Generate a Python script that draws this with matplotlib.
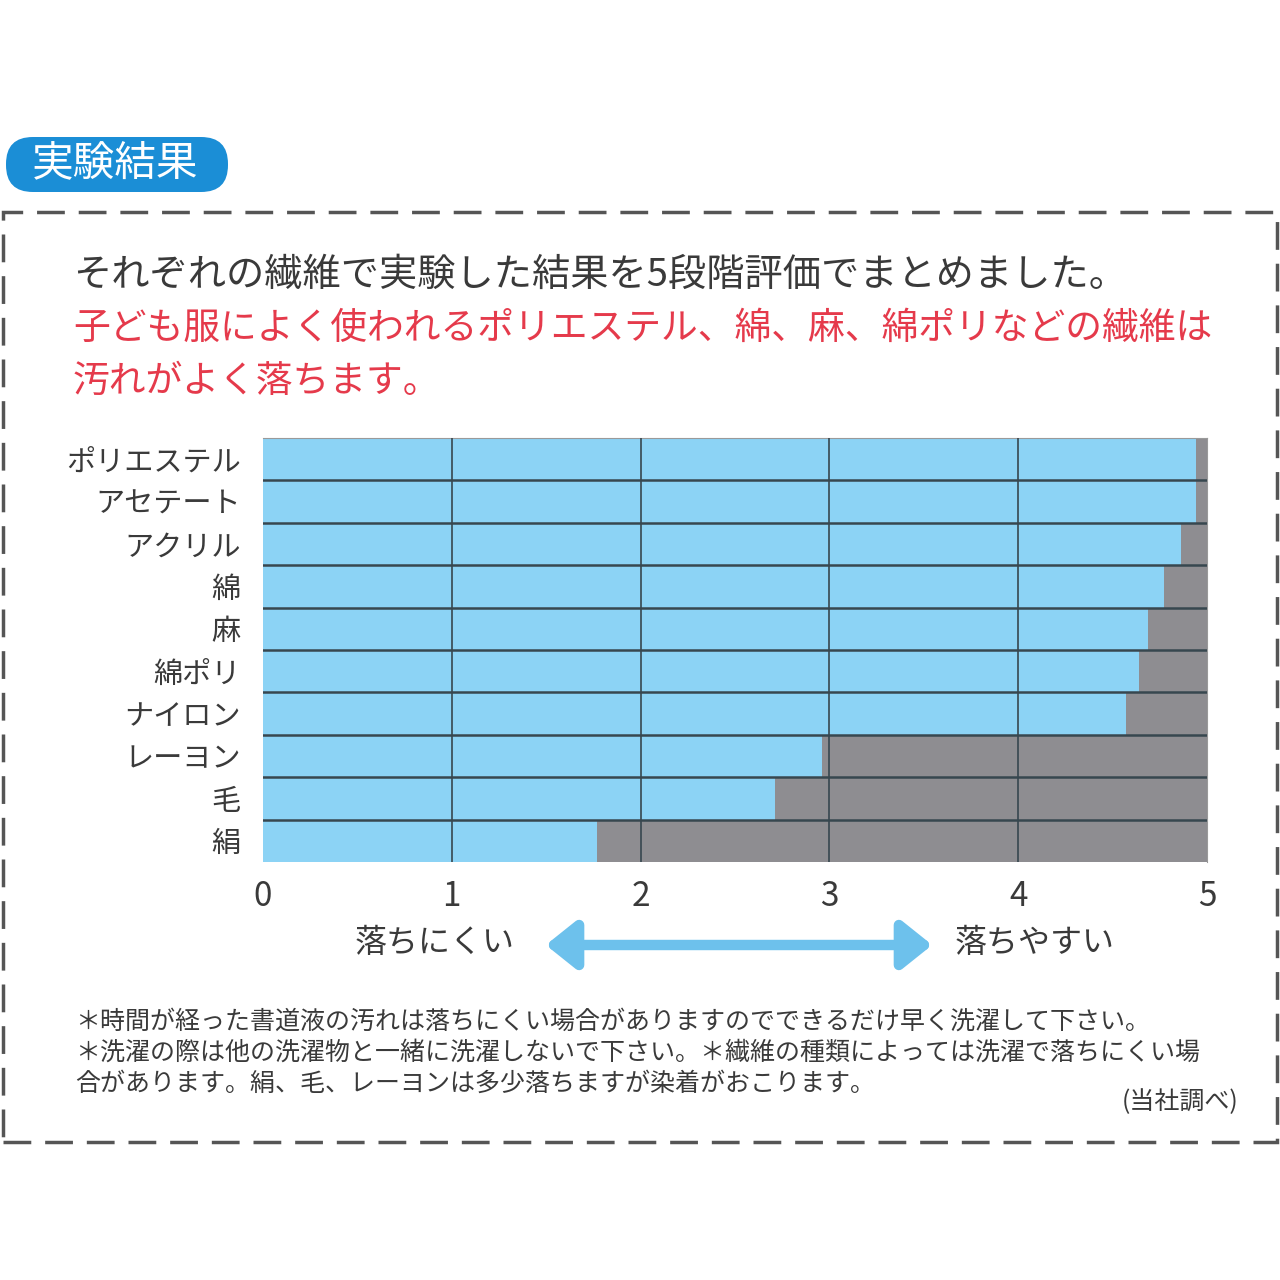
import matplotlib
matplotlib.use("Agg")
import matplotlib.pyplot as plt
from matplotlib.patches import Rectangle, FancyBboxPatch, FancyArrowPatch

plt.rcParams['font.family'] = ['Noto Sans CJK JP', 'DejaVu Sans']

# data
fibers = ["ポリエステル", "アセテート", "アクリル", "綿", "麻", "綿ポリ", "ナイロン", "レーヨン", "毛", "絹"]
scores = [4.94, 4.94, 4.86, 4.77, 4.69, 4.64, 4.57, 2.96, 2.71, 1.77]
ticks = [0, 1, 2, 3, 4, 5]

BLUE = "#8cd3f5"
GRAY = "#8e8d91"
LINE = "#37474f"
TEXT = "#3a3a3a"
RED = "#e53a4b"

W = H = 1280
fig = plt.figure(figsize=(12.8, 12.8), dpi=100)

def fx(px):
    return px / W

def fy(py):
    return 1 - py / H

# badge
badge = FancyBboxPatch((fx(6), fy(192)), fx(222), 55 / H,
                       boxstyle="round,pad=0,rounding_size=0.021",
                       transform=fig.transFigure, facecolor="#1b8ed6", edgecolor="none")
fig.patches.append(badge)
fig.text(fx(115), fy(164), "実験結果", color="white", fontsize=30, ha="center", va="center")

# dashed frame
frame = Rectangle((fx(3), fy(1142)), fx(1274), (1142 - 212) / H, transform=fig.transFigure,
                  fill=False, edgecolor="#555555", linewidth=2.5, linestyle=(0, (8, 4)))
fig.patches.append(frame)

# headline
fig.text(fx(73), fy(275), "それぞれの繊維で実験した結果を5段階評価でまとめました。",
         color=TEXT, fontsize=27.5, va="center")
fig.text(fx(73), fy(328), "子ども服によく使われるポリエステル、綿、麻、綿ポリなどの繊維は",
         color=RED, fontsize=26.5, va="center")
fig.text(fx(73), fy(381), "汚れがよく落ちます。", color=RED, fontsize=26.5, va="center")

# chart
ax = fig.add_axes([fx(263), fy(862), fx(1207 - 263), (862 - 438) / H])
n = len(fibers)
ypos = list(range(n))
ax.barh(ypos, [5] * n, height=1.0, color=GRAY, zorder=1)
ax.barh(ypos, scores, height=1.0, color=BLUE, zorder=2)
for i in range(1, n):
    ax.axhline(i - 0.5, color=LINE, linewidth=1.8, zorder=3)
for t in ticks[1:-1]:
    ax.axvline(t, color=LINE, linewidth=1.2, zorder=3)
ax.set_xlim(0, 5)
ax.set_ylim(n - 0.5, -0.5)
ax.set_yticks(ypos)
ax.set_yticklabels(fibers, fontsize=21, color=TEXT)
ax.set_xticks(ticks)
ax.set_xticklabels([str(t) for t in ticks], fontsize=24, color=TEXT)
ax.tick_params(axis="y", length=0, pad=16)
ax.tick_params(axis="x", length=0, pad=12)
for s in ax.spines.values():
    s.set_visible(False)
ax.spines["top"].set_visible(True)
ax.spines["top"].set_color("#9a9a9a")
ax.spines["right"].set_visible(True)
ax.spines["right"].set_color("#9a9a9a")

# arrow and labels
arr = FancyArrowPatch((fx(543), fy(945)), (fx(935), fy(945)), transform=fig.transFigure,
                      arrowstyle="<|-|>,head_length=0.9,head_width=0.72", mutation_scale=20,
                      color="#6dc1ec", linewidth=7.5)
fig.patches.append(arr)
fig.text(fx(515), fy(943), "落ちにくい", color=TEXT, fontsize=23, ha="right", va="center")
fig.text(fx(955), fy(943), "落ちやすい", color=TEXT, fontsize=23, ha="left", va="center")

# notes
notes = [
    "＊時間が経った書道液の汚れは落ちにくい場合がありますのでできるだけ早く洗濯して下さい。",
    "＊洗濯の際は他の洗濯物と一緒に洗濯しないで下さい。＊繊維の種類によっては洗濯で落ちにくい場",
    "合があります。絹、毛、レーヨンは多少落ちますが染着がおこります。",
]
for k, line in enumerate(notes):
    fig.text(fx(75), fy(1022 + 31 * k), line, color=TEXT, fontsize=18, va="center")
fig.text(fx(1238), fy(1102), "(当社調べ)", color=TEXT, fontsize=18, ha="right", va="center")

fig.savefig("out.png", dpi=100, facecolor="white")
